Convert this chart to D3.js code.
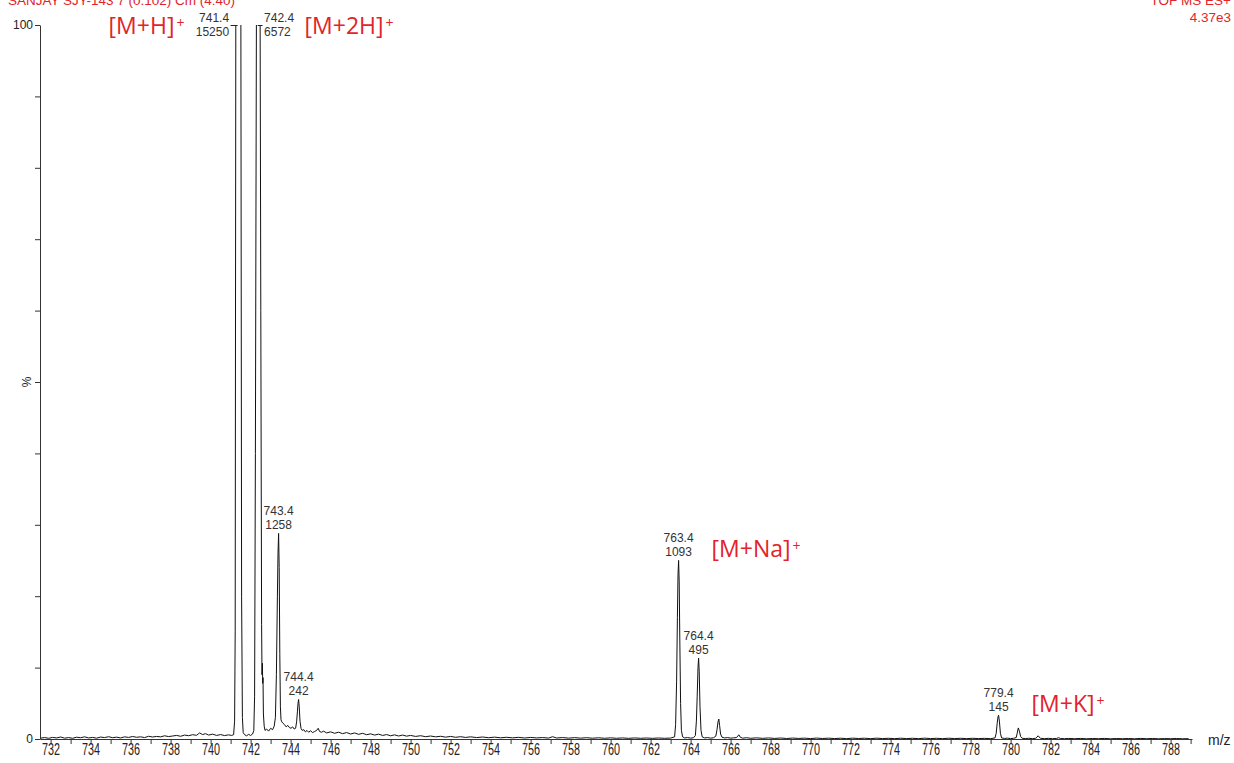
<!DOCTYPE html>
<html>
<head>
<meta charset="utf-8">
<script src="https://cdn.jsdelivr.net/npm/d3@7"></script>
<style>
  html, body { margin: 0; padding: 0; background: #fff; }
  svg { display: block; }
  .axis text { font-family: "Liberation Sans", Arial, sans-serif; fill: #222; }
  .axis path, .axis line { stroke: #333; stroke-width: 1; }
</style>
</head>
<body>
<svg id="chart" width="1234" height="763"></svg>
<script>
// ---- Spectrum header ----
const sampleTitle = "SANJAY SJY-143 7 (0.102) Cm (4:40)";
const scanMode = "TOF MS ES+";
const fullScaleLabel = "4.37e3";
const fullScale = 4370;          // counts at 100 %

// ---- Labelled peaks (m/z and counts) ----
const peakMz = [741.4, 742.4, 743.4, 744.4, 763.4, 764.4, 779.4];
const peakCounts = [15250, 6572, 1258, 242, 1093, 495, 145];

// ---- Ion assignments ----
const ionNames = ["[M+H]", "[M+2H]", "[M+Na]", "[M+K]"];
const ionPeakMz = [741.4, 742.4, 763.4, 779.4];

// ---- Axis ticks ----
const mzTicks = d3.range(732, 790, 1);
const pctTicks = [0, 10, 20, 30, 40, 50, 60, 70, 80, 90, 100];

// ---- Profile trace, [m/z, % of full scale] (apexes of labelled peaks come from peakCounts) ----
const traceLow = [
  [731.5,0.12],[731.7,0.2],[731.9,0.1],[732.1,0.22],[732.3,0.15],[732.5,0.28],[732.7,0.12],[732.9,0.2],
  [733.1,0.1],[733.3,0.25],[733.5,0.18],[733.7,0.3],[733.9,0.15],[734.1,0.22],[734.3,0.12],[734.5,0.27],
  [734.7,0.2],[734.9,0.32],[735.1,0.18],[735.3,0.26],[735.5,0.15],[735.7,0.3],[735.9,0.22],[736.1,0.35],
  [736.3,0.24],[736.5,0.3],[736.7,0.2],[736.9,0.38],[737.1,0.28],[737.3,0.36],[737.5,0.3],[737.7,0.45],
  [737.9,0.34],[738.1,0.42],[738.3,0.5],[738.5,0.38],[738.7,0.55],[738.9,0.46],[739.1,0.6],[739.3,0.52],
  [739.45,0.85],[739.6,0.62],[739.75,0.75],[739.9,0.55],[740.1,0.68],[740.3,0.5],[740.5,0.62],[740.7,0.48],
  [740.9,0.58],[741.05,0.5]
];
const traceProtonated = [
  [741.15,0.6],[741.2,2.5],[741.23,15],[741.26,100],[741.31,240],
  [741.47,250],[741.51,110],[741.55,20],[741.59,3],[741.63,0.9],
  [741.7,0.6],[741.8,0.45],[741.9,0.65],[742.0,0.5],[742.1,0.7],
  [742.16,1.2],[742.2,6],[742.24,40],[742.29,100],[742.34,135],
  [742.46,120],[742.51,60],[742.55,16],[742.57,9],[742.59,10.6],[742.605,7.8],[742.62,8.6],[742.64,3.5],
  [742.68,1.8],[742.72,1.2],[742.8,1.4],[742.9,1.1],[743.0,1.5],[743.1,1.3],[743.18,1.8],
  [743.24,3],[743.29,9],[743.34,20],[743.37,26],
  [743.43,24],[743.46,12],[743.49,4.5],[743.52,2.7],[743.56,2.4],[743.62,2.2],[743.7,2.0],[743.78,1.7],
  [743.86,1.9],[743.94,1.6],[744.02,1.5],[744.1,1.7],[744.18,1.4],[744.25,1.5],
  [744.3,2.4],[744.34,3.8],[744.37,5],
  [744.43,4.6],[744.47,2.5],[744.52,1.5],[744.58,1.2],[744.66,1.3],[744.74,1.0],[744.82,1.2],[744.9,0.95],
  [745.0,1.15],[745.1,0.9],[745.2,1.05],[745.3,1.2],[745.38,1.5],[745.45,1.05],[745.55,0.95],[745.65,1.1],
  [745.8,0.85],[746.0,1.0],[746.2,0.8],[746.4,0.95],[746.6,0.75],[746.8,0.9],[747.0,0.7],[747.2,0.85],
  [747.4,0.65],[747.6,0.8],[747.8,0.6],[748.0,0.72],[748.2,0.55],[748.4,0.68],[748.6,0.5],[748.8,0.62],
  [749.0,0.45],[749.2,0.58],[749.4,0.42],[749.6,0.55],[749.8,0.4],[750.0,0.5]
];
const traceMid = [
  [750.25,0.36],[750.5,0.46],[750.75,0.32],[751.0,0.42],[751.25,0.3],[751.5,0.38],[751.75,0.26],[752.0,0.36],
  [752.25,0.24],[752.5,0.32],[752.75,0.22],[753.0,0.3],[753.3,0.2],[753.6,0.28],[753.9,0.18],[754.2,0.26],
  [754.5,0.17],[754.8,0.24],[755.1,0.16],[755.4,0.23],[755.7,0.14],[756.0,0.22],[756.3,0.15],[756.6,0.2],
  [756.9,0.13],[757.1,0.32],[757.3,0.14],[757.6,0.2],[757.9,0.12],[758.2,0.19],[758.5,0.12],[758.8,0.18],
  [759.1,0.11],[759.4,0.17],[759.7,0.1],[760.0,0.16],[760.3,0.1],[760.6,0.15],[760.9,0.09],[761.2,0.15],
  [761.5,0.1],[761.8,0.14],[762.1,0.09],[762.4,0.14],[762.7,0.1],[763.0,0.13]
];
const traceSodium = [
  [763.2,0.3],[763.25,2],[763.3,8],[763.34,17],[763.37,23],
  [763.43,22],[763.46,14],[763.5,5],[763.54,1.2],[763.6,0.3],[763.7,0.15],[763.85,0.2],[764.0,0.12],[764.15,0.18],
  [764.24,0.5],[764.29,2.5],[764.33,6],[764.37,10],
  [764.43,9.5],[764.47,4.5],[764.52,1.2],[764.58,0.3],[764.7,0.15],[764.85,0.2],[765.0,0.12],[765.15,0.18],
  [765.26,0.4],[765.32,1.3],[765.37,2.4],[765.41,2.8],[765.45,1.9],[765.5,0.7],[765.57,0.25],[765.7,0.15],
  [765.85,0.2],[766.0,0.12],[766.15,0.16],[766.3,0.2],[766.38,0.5],[766.42,0.58],[766.48,0.25],[766.6,0.12],
  [766.8,0.18],[767.0,0.1],[767.3,0.16],[767.6,0.09],[767.9,0.15],[768.2,0.08],[768.5,0.14],[768.8,0.07],
  [769.1,0.13],[769.4,0.08],[769.7,0.12],[770.0,0.06]
];
const traceHigh = [
  [770.3,0.13],[770.6,0.07],[770.9,0.12],[771.2,0.06],[771.5,0.11],[771.8,0.05],[772.1,0.12],[772.4,0.07],
  [772.7,0.11],[773.0,0.05],[773.3,0.12],[773.6,0.06],[773.9,0.1],[774.2,0.05],[774.5,0.11],[774.8,0.06],
  [775.1,0.1],[775.4,0.05],[775.7,0.12],[776.0,0.06],[776.3,0.1],[776.6,0.05],[776.9,0.11],[777.2,0.06],
  [777.5,0.1],[777.8,0.05],[778.1,0.1],[778.4,0.06],[778.7,0.09],[779.0,0.05],
  [779.22,0.15],[779.28,0.8],[779.33,2.2],[779.37,3.1],
  [779.44,2.5],[779.49,0.8],[779.55,0.15],[779.7,0.08],[779.85,0.12],[780.0,0.05],[780.15,0.1],
  [780.28,0.2],[780.33,0.8],[780.37,1.4],[780.39,1.55],[780.42,1.25],[780.45,1.0],[780.5,0.35],[780.58,0.1],
  [780.75,0.06],[780.9,0.1],[781.1,0.05],[781.25,0.1],
  [781.32,0.25],[781.37,0.45],[781.42,0.3],[781.5,0.1],[781.7,0.05],[781.9,0.09],[782.1,0.04],[782.3,0.08],
  [782.4,0.18],[782.5,0.07],[782.7,0.04],[782.9,0.08],[783.2,0.04],[783.5,0.08],[783.8,0.03],[784.1,0.07],
  [784.4,0.04],[784.7,0.08],[785.0,0.03],[785.3,0.07],[785.6,0.04],[785.9,0.07],[786.2,0.03],[786.5,0.08],
  [786.8,0.04],[787.1,0.07],[787.4,0.03],[787.7,0.06],[788.0,0.04],[788.3,0.07],[788.6,0.03],[788.9,0.05]
];

// ---- Build the full trace: profile points + labelled apexes ----
const apexes = peakMz.map((m, i) => [m, peakCounts[i] / fullScale * 100]);
const trace = [...traceLow, ...traceProtonated, ...traceMid, ...traceSodium, ...traceHigh, ...apexes]
  .sort((a, b) => a[0] - b[0]);

const svg = d3.select("#chart");
const plotLeft = 40, plotRight = 1192, plotTop = 25, plotBottom = 739;

const x = d3.scaleLinear().domain([731.47, 789.07]).range([plotLeft, plotRight]);
const y = d3.scaleLinear().domain([0, 100]).range([plotBottom, plotTop]);

const textFont = '"Liberation Sans", Arial, sans-serif';
const red = "#e3232a";

// Header text
svg.append("text").attr("x", 8).attr("y", 5)
  .attr("font-family", textFont).attr("font-size", 13.5).attr("fill", red)
  .text(sampleTitle);
svg.append("text").attr("x", 1231).attr("y", 5).attr("text-anchor", "end")
  .attr("font-family", textFont).attr("font-size", 13.5).attr("fill", red)
  .text(scanMode);
svg.append("text").attr("x", 1231).attr("y", 22).attr("text-anchor", "end")
  .attr("font-family", textFont).attr("font-size", 13.5).attr("fill", red)
  .text(fullScaleLabel);

// Clip the trace at 100 %
svg.append("defs").append("clipPath").attr("id", "plot-clip")
  .append("rect").attr("x", plotLeft).attr("y", plotTop)
  .attr("width", plotRight - plotLeft + 2).attr("height", plotBottom - plotTop + 2);

// Profile trace
const line = d3.line().x(d => x(d[0])).y(d => y(d[1]));
svg.append("path")
  .datum(trace)
  .attr("clip-path", "url(#plot-clip)")
  .attr("fill", "none")
  .attr("stroke", "#111")
  .attr("stroke-width", 1)
  .attr("stroke-linejoin", "round")
  .attr("d", line);

// X axis
const xAxis = d3.axisBottom(x)
  .tickValues(mzTicks)
  .tickFormat(d => d % 2 === 0 ? d : "")
  .tickSize(5).tickSizeOuter(0).tickPadding(0);
const gx = svg.append("g").attr("class", "axis")
  .attr("transform", `translate(0,${plotBottom})`).call(xAxis);
gx.selectAll("text")
  .attr("font-size", 16)
  .attr("textLength", function() { return this.textContent ? 18 : null; })
  .attr("lengthAdjust", "spacingAndGlyphs");

svg.append("text").attr("x", 1208).attr("y", 745)
  .attr("font-family", textFont).attr("font-size", 14).attr("fill", "#222")
  .text("m/z");

// Y axis
const yAxis = d3.axisLeft(y)
  .tickValues(pctTicks)
  .tickFormat(d => d === 100 || d === 0 ? d : "")
  .tickSize(5).tickSizeOuter(0).tickPadding(2);
const gy = svg.append("g").attr("class", "axis")
  .attr("transform", `translate(${plotLeft},0)`).call(yAxis);
gy.selectAll("text").attr("font-size", 12);

svg.append("text")
  .attr("transform", `translate(31,${y(50)}) rotate(-90)`)
  .attr("text-anchor", "middle")
  .attr("font-family", textFont).attr("font-size", 12).attr("fill", "#222")
  .text("%");

// Peak labels
const labelFill = "#333";
peakMz.forEach((m, i) => {
  const pct = peakCounts[i] / fullScale * 100;
  const px = x(m);
  if (pct > 100) {
    // Off-scale peak: label beside the top with a short leader line
    const leftSide = i === 0;
    const lx1 = leftSide ? px - 8 : px - 1;
    const lx2 = leftSide ? px - 1 : px + 4;
    svg.append("line")
      .attr("x1", lx1).attr("x2", lx2)
      .attr("y1", plotTop + 0.5).attr("y2", plotTop + 0.5)
      .attr("stroke", "#222").attr("stroke-width", 1);
    const tx = leftSide ? lx1 - 1.5 : lx2 + 1.5;
    const anchor = leftSide ? "end" : "start";
    svg.append("text").attr("x", tx).attr("y", plotTop - 3.5)
      .attr("text-anchor", anchor).attr("font-family", textFont)
      .attr("font-size", 12).attr("fill", labelFill).text(m.toFixed(1));
    svg.append("text").attr("x", tx).attr("y", plotTop + 10.5)
      .attr("text-anchor", anchor).attr("font-family", textFont)
      .attr("font-size", 12).attr("fill", labelFill).text(peakCounts[i]);
  } else {
    const top = y(pct);
    svg.append("text").attr("x", px).attr("y", top - 18)
      .attr("text-anchor", "middle").attr("font-family", textFont)
      .attr("font-size", 12).attr("fill", labelFill).text(m.toFixed(1));
    svg.append("text").attr("x", px).attr("y", top - 4)
      .attr("text-anchor", "middle").attr("font-family", textFont)
      .attr("font-size", 12).attr("fill", labelFill).text(peakCounts[i]);
  }
});

// Ion assignment annotations
const ionFont = '"Open Sans", "Noto Sans", sans-serif';
ionNames.forEach((name, i) => {
  const m = ionPeakMz[i];
  const k = peakMz.indexOf(m);
  const pct = peakCounts[k] / fullScale * 100;
  let ax, ay;
  if (pct > 100) {
    ax = i === 0 ? x(m) - 130 : x(m) + 46;
    ay = plotTop + 8.5;
  } else {
    ax = x(m) + 33;
    ay = y(pct) - 3.5;
  }
  const t = svg.append("text").attr("x", ax).attr("y", ay)
    .attr("font-family", ionFont).attr("font-size", 23).attr("fill", red);
  t.append("tspan").text(name);
  t.append("tspan").attr("dx", 2).attr("dy", -6).attr("font-size", 14).text("+");
});
</script>
</body>
</html>
